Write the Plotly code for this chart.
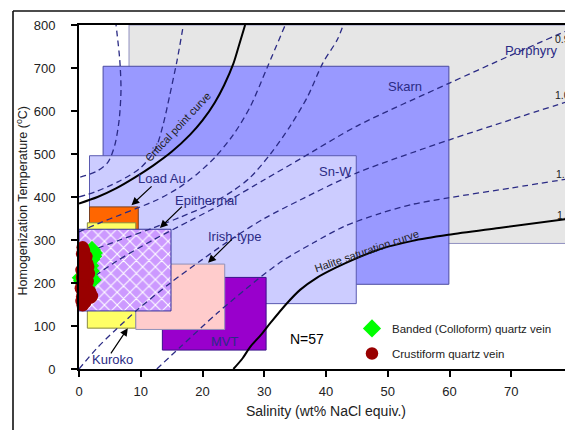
import plotly.graph_objects as go

# ---------------- data ----------------
# deposit-type boxes (salinity wt% NaCl, temperature C)
box_names = ["Porphyry", "Skarn", "Sn-W", "Load Au", "Kuroko", "MVT", "Irish-type"]
box_x0 = [8.1, 3.9, 1.7, 1.7, 1.35, 13.5, 9.2]
box_x1 = [80, 59.9, 44.9, 9.6, 9.2, 30.3, 23.6]
box_y0 = [292, 197, 152, 300, 95, 44, 92]
box_y1 = [800, 704, 496, 377, 340, 213, 244]
box_fill = ["#e6e6e6", "#9999ff", "#ccccff", "#ff6600", "#ffff66", "#9900cc", "#ffcccc"]
box_edge = ["#9090c0", "#4b4ba0", "#5a5ab0", "#7a4020", "#8a8a40", "#3a108a", "#9090b8"]

# hatched (epithermal) box
hatch_x0, hatch_x1 = 0.0, 14.9
hatch_y0, hatch_y1 = 135, 325

# iso-density lines (g/cm3)
iso = {
    "0.4": ([0.2, 2.9, 4.7, 5.8, 6.5, 6.8, 6.6, 6.0],
            [446, 460, 481, 521, 579, 649, 719, 800]),
    "0.5": ([0.0, 2.6, 6.3, 9.9, 12.3, 13.6, 14.7, 15.9, 16.9],
            [400, 412, 435, 467, 509, 567, 637, 719, 800]),
    "0.7": ([0.0, 3.4, 6.6, 9.4, 12.6, 16.0, 19.0, 22.0, 25.0, 27.7, 30.5, 33.4],
            [319, 340, 358, 374, 393, 420, 452, 492, 545, 609, 702, 800]),
    "0.8": ([0.0, 6.6, 12.0, 16.4, 21.2, 25.0, 27.7, 31.0, 34.2, 37.0, 39.5, 41.8, 42.8],
            [265, 300, 328, 353, 383, 415, 445, 500, 565, 633, 712, 765, 800]),
    "0.9": ([0.0, 6.0, 12.0, 18.0, 24.0, 30.0, 36.0, 45.0, 60.0, 70.0, 80.0],
            [190, 250, 300, 345, 390, 440, 490, 565, 665, 730, 793]),
    "1.0": ([0.0, 3.0, 6.0, 9.4, 14.7, 20.0, 25.0, 30.0, 35.8, 45.0, 60.0, 70.0, 80.0],
            [0, 50, 92, 137, 199, 255, 305, 350, 393, 456, 533, 580, 626]),
    "1.1": ([12.6, 16.4, 22.4, 28.8, 33.0, 37.9, 43.0, 48.8, 54.0, 59.8, 70.0, 80.0],
            [0, 51, 130, 207, 252, 293, 332, 362, 383, 398, 421, 444]),
}
iso_label_x = {"0.4": 5.5, "0.5": 17.0, "0.6": 27.2, "0.7": 33.5, "0.8": 42.8,
               "0.9": 78.3, "1.0": 78.3, "1.1": 78.4, "1.2": 78.6}
iso_label_y = {"0.4": 809, "0.5": 809, "0.6": 809, "0.7": 808, "0.8": 807,
               "0.9": 767, "1.0": 637, "1.1": 453, "1.2": 358}

crit_x = [0.0, 3.0, 6.0, 9.0, 12.0, 15.0, 18.0, 20.0, 22.0, 23.5, 25.0, 26.0, 26.9]
crit_T = [385, 400, 420, 445, 473, 505, 545, 578, 620, 660, 710, 757, 800]

hal_x = [25.0, 26.5, 27.7, 29.5, 31.0, 33.5, 35.8, 38.5, 41.5, 45.0, 49.0, 54.0, 59.8, 68.0, 80.0]
hal_T = [0, 25, 51, 80, 107, 150, 184, 212, 235, 258, 280, 298, 312, 328, 351]

# fluid inclusion data (N = 57)
banded_x = [2.1, 1.6, 2.3, 1.8, 0.3, 2.2, 1.0, 1.4, 0.5, 1.9, 2.4, 1.2, 0.8, 1.7, 2.0]
banded_T = [277, 268, 262, 240, 212, 207, 220, 250, 205, 228, 270, 235, 198, 215, 255]
crust_x = [0.6, 0.8, 0.5, 1.2, 0.7, 1.0, 1.3, 0.9, 1.1, 0.4, 0.8, 1.5, 1.6, 2.1, 0.6, 0.5,
           1.0, 1.4, 0.7, 0.9, 1.2, 0.3, 0.6, 1.8, 1.1, 0.8, 0.5, 1.3, 0.9, 0.4, 1.0, 0.7,
           1.5, 0.6, 1.2, 0.8, 1.9, 0.5, 1.1, 0.7, 0.9, 0.6]
crust_T = [283, 276, 268, 262, 257, 252, 246, 242, 236, 230, 226, 238, 222, 170, 218, 212,
           208, 204, 200, 196, 192, 188, 184, 180, 176, 172, 168, 165, 162, 158, 155, 152,
           175, 148, 186, 214, 166, 197, 222, 240, 260, 178]

# text labels for deposit types: (text, x, y)
dep_labels = [("Porphyry", 73.2, 740), ("Skarn", 52.8, 656), ("Sn-W", 41.5, 460),
              ("Load Au", 13.4, 444), ("Epithermal", 20.6, 393), ("Irish-type", 25.2, 307),
              ("Kuroko", 5.5, 23), ("MVT", 23.7, 65)]
# arrows: (head x, head y, tail x, tail y)
arrows = [(8.5, 381, 12.0, 428), (13.1, 328, 16.9, 381), (20.9, 247, 25.0, 305), (7.9, 95, 5.0, 33)]

FONT = "Liberation Sans, Arial, sans-serif"
NAVY = "#2b2b85"

fig = go.Figure()

shapes = []
for i in range(len(box_names)):
    shapes.append(dict(type="rect", xref="x", yref="y", x0=box_x0[i], x1=box_x1[i],
                       y0=box_y0[i], y1=box_y1[i], fillcolor=box_fill[i],
                       line=dict(color=box_edge[i], width=1), layer="below"))

# outer frame lines
shapes.append(dict(type="line", xref="paper", yref="paper", x0=-0.1336, x1=1.02,
                   y0=1.0407, y1=1.0407, line=dict(color="#111", width=1.6)))
shapes.append(dict(type="line", xref="paper", yref="paper", x0=-0.1336, x1=-0.1336,
                   y0=1.0407, y1=-0.2, line=dict(color="#111", width=1.6)))

# hatched box as a patterned bar
fig.add_trace(go.Bar(x=[(hatch_x0 + hatch_x1) / 2], y=[hatch_y1 - hatch_y0], base=[hatch_y0],
                     width=[hatch_x1 - hatch_x0], showlegend=False, hoverinfo="skip",
                     marker=dict(color="#cc99ff", line=dict(color="#333399", width=1),
                                 pattern=dict(shape="x", fgcolor="#ffffff", bgcolor="#cc99ff",
                                              size=9, solidity=0.22, fillmode="replace"))))

for k, (xs, ys) in iso.items():
    fig.add_trace(go.Scatter(x=xs, y=ys, mode="lines", showlegend=False, hoverinfo="skip",
                             line=dict(color=NAVY, width=1.3, dash="6px,4px", shape="spline",
                                       smoothing=0.8)))

fig.add_trace(go.Scatter(x=crit_x, y=crit_T, mode="lines", showlegend=False, hoverinfo="skip",
                         line=dict(color="black", width=2, shape="spline", smoothing=0.8)))
fig.add_trace(go.Scatter(x=hal_x, y=hal_T, mode="lines", showlegend=False, hoverinfo="skip",
                         line=dict(color="black", width=2, shape="spline", smoothing=0.8)))

fig.add_trace(go.Scatter(x=banded_x, y=banded_T, mode="markers", name="Banded (Colloform) quartz vein",
                         legendgroup="a", cliponaxis=False,
                         marker=dict(symbol="diamond", size=14, color="#00ff00",
                                     line=dict(width=0))))
fig.add_trace(go.Scatter(x=crust_x, y=crust_T, mode="markers", name="Crustiform quartz vein",
                         legendgroup="b", cliponaxis=False,
                         marker=dict(symbol="circle", size=12.5, color="#990000",
                                     line=dict(width=0))))

ann = []
for t, x, y in dep_labels:
    ann.append(dict(text=t, x=x, y=y, xref="x", yref="y", showarrow=False,
                    font=dict(family=FONT, size=13, color=NAVY)))
ann.append(dict(text="N=57", x=37, y=70, xref="x", yref="y", showarrow=False,
                font=dict(family=FONT, size=14, color="black")))
for k in iso_label_x:
    ann.append(dict(text=k, x=iso_label_x[k], y=iso_label_y[k], xref="x", yref="y",
                    showarrow=False, font=dict(family=FONT, size=10.5, color="#222")))
for hx, hy, tx, ty in arrows:
    ann.append(dict(text="", x=hx, y=hy, ax=tx, ay=ty, xref="x", yref="y", axref="x", ayref="y",
                    showarrow=True, arrowhead=2, arrowsize=1.3, arrowwidth=1.2,
                    arrowcolor="black", standoff=0))
ann.append(dict(text="Critical point curve", x=16.0, y=562, xref="x", yref="y", showarrow=False,
                textangle=-47, font=dict(family=FONT, size=11, color="#222")))
ann.append(dict(text="Halite saturation curve", x=46.5, y=274, xref="x", yref="y", showarrow=False,
                textangle=-19, font=dict(family=FONT, size=11, color="#222")))
ann.append(dict(text="Salinity (wt% NaCl equiv.)", x=0.5, y=-0.123, xref="paper", yref="paper",
                showarrow=False, yanchor="middle",
                font=dict(family=FONT, size=14, color="#222")))
ann.append(dict(text="Homogenization Temperature (<sup>o</sup>C)", x=-0.1154, y=0.49,
                xref="paper", yref="paper", showarrow=False, textangle=-90, xanchor="center",
                font=dict(family=FONT, size=12.5, color="#222")))

# page body has an 8px margin: figure is sized so that the plot lands where the reference has it
fig.update_layout(
    width=565, height=422,
    margin=dict(l=71, r=0, t=17, b=61, autoexpand=False),
    paper_bgcolor="white", plot_bgcolor="white",
    font=dict(family=FONT, size=12, color="#222"),
    shapes=shapes, annotations=ann,
    barmode="overlay",
    legend=dict(x=0.5526, y=0.16, xanchor="left", yanchor="top", bgcolor="rgba(0,0,0,0)",
                font=dict(family=FONT, size=11.5, color="#222"), traceorder="grouped",
                tracegroupgap=6),
)
fig.update_xaxes(range=[0, 80], tickvals=[0, 10, 20, 30, 40, 50, 60, 70, 80],
                 ticks="outside", ticklen=6, tickwidth=1.5, tickcolor="black",
                 showline=True, linecolor="black", linewidth=2, mirror=True,
                 showgrid=False, zeroline=False, tickfont=dict(size=13, color="#222"),
                 automargin=False, ticklabelstandoff=3, ticklabeloverflow="allow")
fig.update_yaxes(range=[0, 800], tickvals=list(range(0, 801, 100)),
                 ticks="outside", ticklen=6, tickwidth=1.5, tickcolor="black",
                 showline=True, linecolor="black", linewidth=2,
                 showgrid=False, zeroline=False, tickfont=dict(size=13, color="#222"),
                 automargin=False, ticklabelstandoff=13)

fig.write_html("out.html")
